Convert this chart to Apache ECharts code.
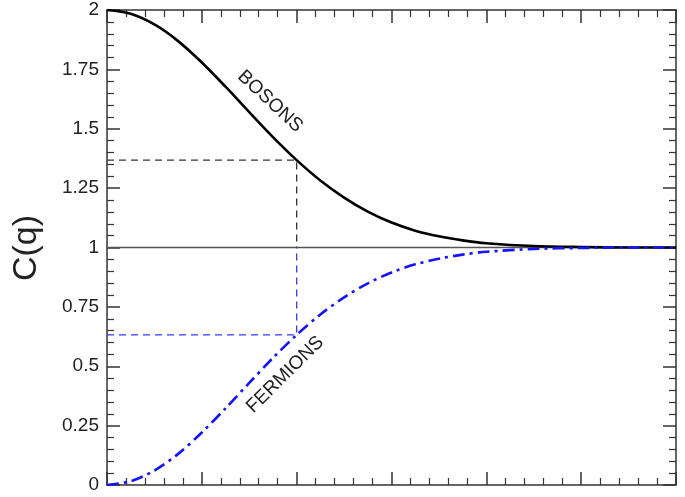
<!DOCTYPE html>
<html>
<head>
<meta charset="utf-8">
<script src="https://cdn.jsdelivr.net/npm/echarts@6/dist/echarts.min.js"></script>
<style>
  html, body { margin: 0; padding: 0; background: #fff; }
  #chart { width: 685px; height: 497px; }
</style>
</head>
<body>
<div id="chart"></div>
<script>
// q values (arbitrary units along the bottom axis)
const qValues = [0, 0.25, 0.5, 0.75, 1, 1.25, 1.5, 1.75, 2, 2.25, 2.5, 2.75, 3, 3.25, 3.5, 3.75, 4, 4.5, 5, 5.5, 6];
// C(q)
const bosons = [2.000, 1.984, 1.939, 1.869, 1.779, 1.677, 1.570, 1.465, 1.368, 1.282, 1.210, 1.151, 1.105, 1.071, 1.047, 1.030, 1.018, 1.006, 1.002, 1.000, 1.000];
const fermions = [0.000, 0.016, 0.061, 0.131, 0.221, 0.323, 0.430, 0.535, 0.632, 0.718, 0.790, 0.849, 0.895, 0.929, 0.953, 0.970, 0.982, 0.994, 0.998, 1.000, 1.000];
// guide lines at q = 2
const guideQ = 2;
const bosonAtGuide = 1.368;
const fermionAtGuide = 0.632;
const yTicks = [0, 0.25, 0.5, 0.75, 1, 1.25, 1.5, 1.75, 2];

const font = '"Liberation Sans", Arial, sans-serif';
const axisColor = '#333';

const pairs = (xs, ys) => xs.map((x, i) => [x, ys[i]]);

const xAxisBase = {
  type: 'value', min: 0, max: 6, interval: 1,
  axisLine: { show: true, onZero: false, lineStyle: { color: axisColor, width: 1.5 } },
  axisTick: { show: true, inside: true, length: 13, lineStyle: { color: axisColor, width: 1.5 } },
  minorTick: { show: true, splitNumber: 5, length: 7, lineStyle: { color: axisColor, width: 1.2 } },
  axisLabel: { show: false },
  splitLine: { show: false }
};
const yAxisBase = {
  type: 'value', min: yTicks[0], max: yTicks[yTicks.length - 1], interval: 0.25,
  axisLine: { show: true, onZero: false, lineStyle: { color: axisColor, width: 1.5 } },
  axisTick: { show: true, inside: true, length: 13, lineStyle: { color: axisColor, width: 1.5 } },
  minorTick: { show: true, splitNumber: 5, length: 7, lineStyle: { color: axisColor, width: 1.2 } },
  splitLine: { show: false }
};

const chart = echarts.init(document.getElementById('chart'), null, { renderer: 'canvas' });

chart.setOption({
  animation: false,
  backgroundColor: '#fff',
  grid: { left: 107, right: 9, top: 10, bottom: 12 },
  xAxis: [
    Object.assign({}, xAxisBase, { position: 'bottom' }),
    Object.assign({}, xAxisBase, { position: 'top' })
  ],
  yAxis: [
    Object.assign({}, yAxisBase, {
      position: 'left',
      axisLabel: { show: true, margin: 8, color: '#222', fontSize: 19, fontFamily: font,
        formatter: v => String(v) }
    }),
    Object.assign({}, yAxisBase, { position: 'right', axisLabel: { show: false } })
  ],
  series: [
    {
      type: 'line', name: 'unity', data: [[0, 1], [6, 1]], symbol: 'none', z: 1,
      lineStyle: { color: '#555', width: 1.5 }
    },
    {
      type: 'line', name: 'boson guide', symbol: 'none', z: 2,
      data: [[0, bosonAtGuide], [guideQ, bosonAtGuide], [guideQ, 1]],
      lineStyle: { color: '#333', width: 1.3, type: [7, 5] }
    },
    {
      type: 'line', name: 'fermion guide', symbol: 'none', z: 2,
      data: [[0, fermionAtGuide], [guideQ, fermionAtGuide], [guideQ, 1]],
      lineStyle: { color: '#3a3aff', width: 1.3, type: [7, 5] }
    },
    {
      type: 'line', name: 'BOSONS', symbol: 'none', smooth: 0.3, z: 3,
      data: pairs(qValues, bosons),
      lineStyle: { color: '#000', width: 2.6 }
    },
    {
      type: 'line', name: 'FERMIONS', symbol: 'none', smooth: 0.3, z: 3,
      data: pairs(qValues, fermions),
      lineStyle: { color: '#1414ff', width: 2.6, type: [12, 5, 3, 5] }
    }
  ]
});

// text annotations placed in data coordinates
const bosonLabel = chart.convertToPixel({ gridIndex: 0 }, [1.72, 1.615]);
const fermionLabel = chart.convertToPixel({ gridIndex: 0 }, [1.88, 0.465]);

chart.setOption({
  graphic: [
    {
      type: 'text', x: bosonLabel[0], y: bosonLabel[1], rotation: -0.75,
      style: { text: 'BOSONS', fill: '#222', font: '19px ' + font, align: 'center', verticalAlign: 'middle' }
    },
    {
      type: 'text', x: fermionLabel[0], y: fermionLabel[1], rotation: 0.78,
      style: { text: 'FERMIONS', fill: '#222', font: '19px ' + font, align: 'center', verticalAlign: 'middle' }
    },
    {
      type: 'text', x: 27, y: 248, rotation: Math.PI / 2,
      style: { text: 'C(q)', fill: '#222', font: '34px ' + font, align: 'center', verticalAlign: 'middle' }
    }
  ]
});
</script>
</body>
</html>
